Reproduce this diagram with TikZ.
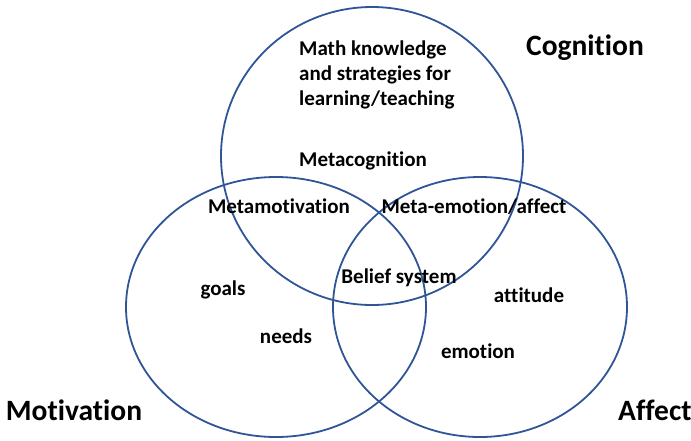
\documentclass[tikz,border=0pt]{standalone}
\usepackage{fontspec}
\setmainfont{Carlito}[Ligatures=NoCommon]
\definecolor{ringblue}{RGB}{47,85,151}

\begin{document}
\begin{tikzpicture}[
    x=1pt, y=-1pt,
    ring/.style={draw=ringblue, line width=1.8pt},
    item/.style={inner sep=0pt, font=\fontsize{21}{25}\selectfont\bfseries},
    areatitle/.style={inner sep=0pt, font=\fontsize{29.5}{34}\selectfont\bfseries}
]
    \useasboundingbox (0,0) rectangle (691,440);
    \draw[ring] (372,156) ellipse [x radius=151, y radius=149];
    \draw[ring] (276,307) ellipse [x radius=150, y radius=130];
    \draw[ring] (480,307) ellipse [x radius=147, y radius=130];
    \node[item, align=left, anchor=west] (know) at (299,75) {Math knowledge\\and strategies for\\learning/teaching};
    \node[item] (metacog) at (363,161) {Metacognition};
    \node[item] (metamot) at (279,206) {Metamotivation};
    \node[item] (metaemo) at (474,207) {Meta-emotion/affect};
    \node[item] (belief) at (399,278) {Belief system};
    \node[item] (goals) at (223,290) {goals};
    \node[item] (needs) at (286,336) {needs};
    \node[item] (attitude) at (529,295) {attitude};
    \node[item] (emotion) at (478,351) {emotion};
    \node[areatitle] (cog) at (585,48) {Cognition};
    \node[areatitle] (mot) at (74,410) {Motivation};
    \node[areatitle, anchor=west] (aff) at (618,410) {Affect};
\end{tikzpicture}
\end{document}
